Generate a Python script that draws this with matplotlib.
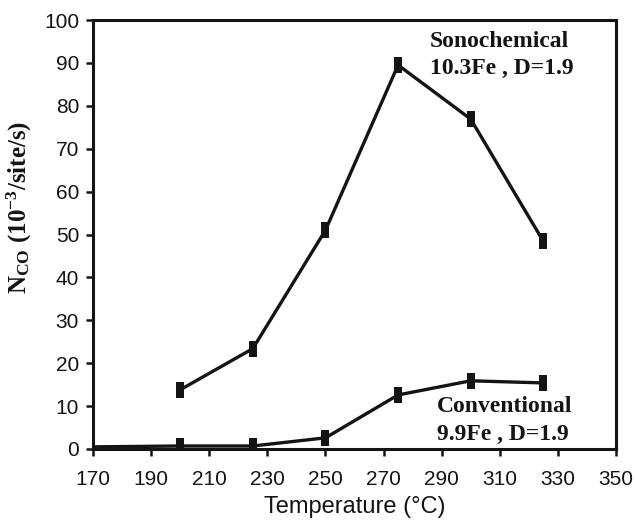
import matplotlib
matplotlib.use("Agg")
import matplotlib.pyplot as plt
from matplotlib.path import Path
import numpy as np

plt.rcParams['mathtext.fontset'] = 'custom'
plt.rcParams['mathtext.rm'] = 'Liberation Serif:bold'
plt.rcParams['mathtext.it'] = 'Liberation Serif:bold'
plt.rcParams['mathtext.bf'] = 'Liberation Serif:bold'

sono_x = [200, 225, 250, 275, 300, 325]
sono_y = [13.8, 23.4, 51.0, 89.5, 76.9, 48.4]
conv_x = [170, 200, 225, 250, 275, 300, 325]
conv_y = [0.5, 0.7, 0.7, 2.6, 12.6, 15.9, 15.4]
xticks = list(range(170, 351, 20))
yticks = list(range(0, 101, 10))

W, H = 635, 523
fig = plt.figure(figsize=(W / 100, H / 100), dpi=100)
L, R, T, B = 93, 616, 20, 449
ax = fig.add_axes([L / W, 1 - B / H, (R - L) / W, (B - T) / H])

hw = 0.56
rect = Path([(-hw, -1), (hw, -1), (hw, 1), (-hw, 1), (-hw, -1)],
            [Path.MOVETO, Path.LINETO, Path.LINETO, Path.LINETO, Path.CLOSEPOLY])
col = '#141414'
ax.plot(sono_x, sono_y, color=col, lw=2.4, zorder=2)
ax.plot(conv_x, conv_y, color=col, lw=2.4, zorder=2)
ax.scatter(sono_x, sono_y, marker=rect, s=130, c=col, linewidths=0, zorder=3)
ax.scatter(conv_x[1:], conv_y[1:], marker=rect, s=130, c=col, linewidths=0, zorder=3)

ax.set_xlim(170, 350)
ax.set_ylim(0, 100)
ax.set_xticks(xticks)
ax.set_yticks(yticks)
for s in ax.spines.values():
    s.set_linewidth(2.2)
    s.set_color(col)
ax.tick_params(direction='out', length=5, width=1.8, labelsize=15, colors=col)
ax.tick_params(axis='x', pad=10)
ax.tick_params(axis='y', pad=5)
for lab in ax.get_xticklabels() + ax.get_yticklabels():
    lab.set_fontfamily('Liberation Sans')

ax.set_xlabel('Temperature (°C)', fontsize=17, fontfamily='Liberation Sans', labelpad=5, color=col)
ax.set_ylabel(r'N$_{\mathregular{CO}}$ (10$^{\mathregular{-3}}$/site/s)', fontsize=18,
              fontfamily='Liberation Serif', fontweight='bold', color=col)
ax.yaxis.set_label_coords(-0.113, 0.564)

tkw = dict(transform=ax.transAxes, fontsize=17, fontfamily='Liberation Serif',
           fontweight='bold', va='baseline', ha='left', color=col)
ax.text(0.644, 0.937, 'Sonochemical', **tkw)
ax.text(0.644, 0.874, '10.3Fe , D=1.9', **tkw)
ax.text(0.658, 0.086, 'Conventional', **tkw)
ax.text(0.658, 0.021, '9.9Fe , D=1.9', **tkw)

fig.savefig('out.png', dpi=100)
